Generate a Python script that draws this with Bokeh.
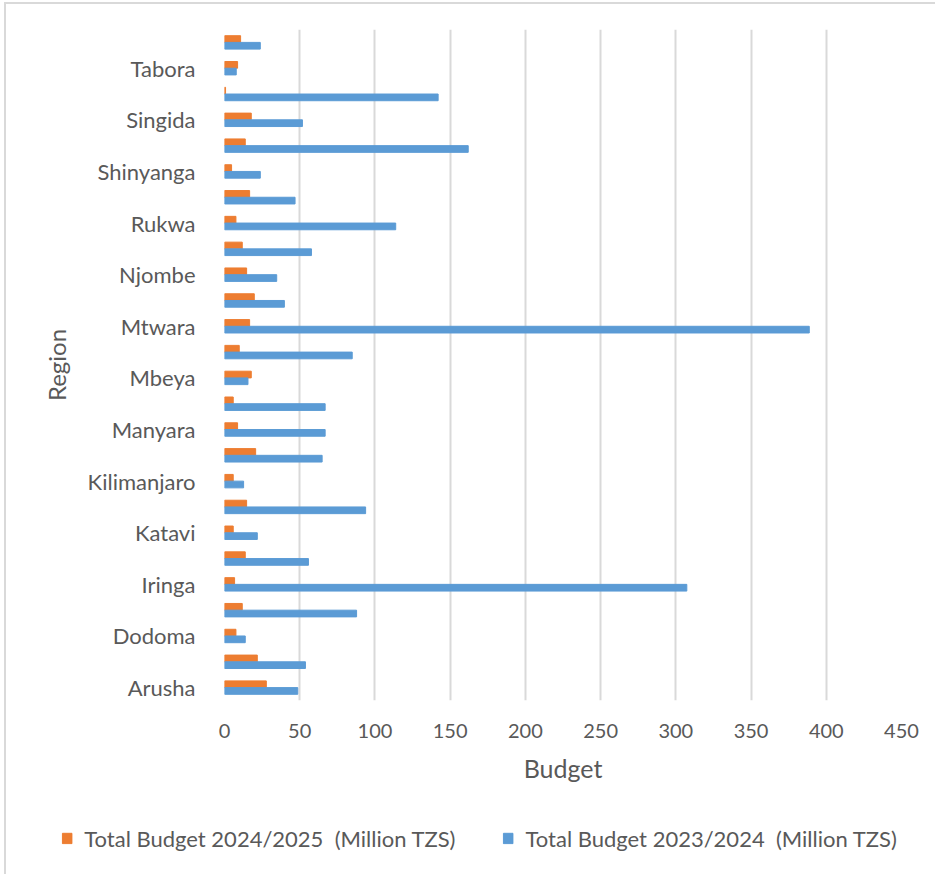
from bokeh.plotting import figure
from bokeh.models import ColumnDataSource, Range1d, FixedTicker, Legend, LegendItem
from bokeh.embed import file_html
from bokeh.resources import INLINE

regions = ["Arusha", "Dar es Salaam", "Dodoma", "Geita", "Iringa", "Kagera", "Katavi",
           "Kigoma", "Kilimanjaro", "Lindi", "Manyara", "Mara", "Mbeya", "Morogoro",
           "Mtwara", "Mwanza", "Njombe", "Pwani", "Rukwa", "Ruvuma", "Shinyanga",
           "Simiyu", "Singida", "Songwe", "Tabora", "Tanga"]
budget_2024_25 = [27.8, 21.8, 7.6, 11.8, 6.7, 13.8, 5.8, 14.7, 5.8, 20.7, 8.7, 5.8, 17.8,
                  9.8, 16.7, 19.8, 14.7, 11.8, 7.6, 16.7, 4.7, 13.8, 17.8, 0.7, 8.7, 10.7]
budget_2023_24 = [48.7, 53.8, 13.8, 87.8, 307.3, 55.8, 21.8, 93.8, 12.7, 64.9, 66.9, 66.9,
                  15.6, 84.9, 388.7, 39.8, 34.7, 57.8, 113.8, 46.9, 23.8, 162.0, 51.8,
                  142.0, 7.8, 23.8]
x_ticks = [0, 50, 100, 150, 200, 250, 300, 350, 400, 450]
series_labels = ["Total Budget 2024/2025  (Million TZS)",
                 "Total Budget 2023/2024  (Million TZS)"]

FONT = "Lato"
ORANGE = "#ED7D31"
BLUE = "#5B9BD5"
GREY_TXT = "#595959"
BORDER = "2px solid #D9D9D9"

idx = list(range(len(regions)))
src = ColumnDataSource(dict(
    pos=idx,
    y_new=[i + 0.13 for i in idx],
    y_old=[i - 0.13 for i in idx],
    new=budget_2024_25,
    old=budget_2023_24,
))

OX, OY = 6, 4  # offset of the chart area's border inside the window
W = 937 - OX
H1 = 800 - OY
H2 = 876 - 800

p = figure(width=W, height=H1, output_backend="svg", toolbar_location=None,
           x_range=Range1d(0, 450), y_range=Range1d(-0.5, len(regions) - 0.5),
           min_border_left=224 - OX, min_border_right=36, min_border_top=29 - OY,
           min_border_bottom=H1 - (700 - OY))
p.styles = {"border-left": BORDER, "border-top": BORDER,
            "margin-left": "4px", "margin-top": "2px"}
p.outline_line_color = None
p.background_fill_color = "white"
p.border_fill_color = "white"

r_new = p.hbar(y="y_new", right="new", left=0, height=0.26, color=ORANGE, source=src)
r_old = p.hbar(y="y_old", right="old", left=0, height=0.26, color=BLUE, source=src)

# x axis
p.xaxis.ticker = FixedTicker(ticks=x_ticks)
p.xaxis.axis_line_color = None
p.xaxis.major_tick_line_color = None
p.xaxis.minor_tick_line_color = None
p.xaxis.major_label_text_font = FONT
p.xaxis.major_label_text_font_size = "20px"
p.xaxis.major_label_text_color = GREY_TXT
p.xaxis.major_label_standoff = 17
p.xaxis.axis_label = "Budget"
p.xaxis.axis_label_text_font = FONT
p.xaxis.axis_label_text_font_size = "25px"
p.xaxis.axis_label_text_font_style = "normal"
p.xaxis.axis_label_text_color = GREY_TXT
p.xaxis.axis_label_standoff = 12

# y axis: every other region labelled
p.yaxis.ticker = FixedTicker(ticks=[i for i in idx if i % 2 == 0])
p.yaxis.major_label_overrides = {i: regions[i] for i in idx if i % 2 == 0}
p.yaxis.axis_line_color = None
p.yaxis.major_tick_line_color = None
p.yaxis.minor_tick_line_color = None
p.yaxis.major_label_text_font = FONT
p.yaxis.major_label_text_font_size = "22px"
p.yaxis.major_label_text_color = GREY_TXT
p.yaxis.major_label_standoff = 23
p.yaxis.axis_label = "Region"
p.yaxis.axis_label_text_font = FONT
p.yaxis.axis_label_text_font_size = "24px"
p.yaxis.axis_label_text_font_style = "normal"
p.yaxis.axis_label_text_color = GREY_TXT
p.yaxis.axis_label_standoff = 14

p.xgrid.grid_line_color = "#D9D9D9"
p.xgrid.grid_line_width = 2
p.ygrid.grid_line_color = None

# legend strip below the chart (a separate root, so its frame spans the full width);
# its key glyphs reuse the data source but lie outside this strip's visible range
q = figure(width=W, height=H2, output_backend="svg", toolbar_location=None,
           x_range=Range1d(0, 450), y_range=Range1d(1000, 1001),
           min_border_left=14, min_border_right=0, min_border_top=4, min_border_bottom=0)
q.styles = {"border-left": BORDER, "margin-left": "4px"}
q.axis.visible = False
q.grid.grid_line_color = None
q.outline_line_color = None
q.border_fill_color = "white"
k_new = q.hbar(y="y_new", right="new", left=0, height=0.26, color=ORANGE, source=src)
k_old = q.hbar(y="y_old", right="old", left=0, height=0.26, color=BLUE, source=src)

legend = Legend(items=[
    LegendItem(label=series_labels[0], renderers=[k_new]),
    LegendItem(label=series_labels[1], renderers=[k_old]),
], orientation="horizontal", location="center")
legend.label_text_font = FONT
legend.label_text_font_size = "22px"
legend.label_text_color = GREY_TXT
legend.glyph_width = 12
legend.glyph_height = 13
legend.spacing = 46
legend.label_standoff = 12
legend.border_line_color = None
legend.background_fill_alpha = 0
legend.margin = 0
legend.padding = 0
q.add_layout(legend, "center")

open("out.html", "w").write(file_html([p, q], INLINE))
